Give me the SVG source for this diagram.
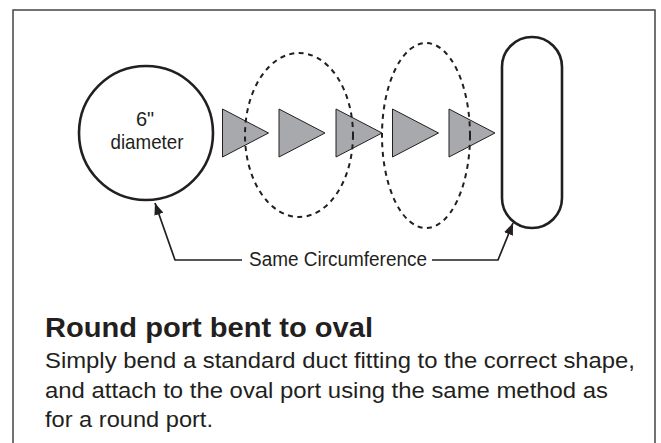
<svg xmlns="http://www.w3.org/2000/svg" width="661" height="443" viewBox="0 0 661 443">
<style>
.txt{font-family:"Liberation Sans",Arial,Helvetica,sans-serif;fill:#231f20}
.solid{fill:#fff;stroke:#231f20;stroke-width:2.6}
.dash{fill:none;stroke:#231f20;stroke-width:2;stroke-dasharray:5 4.5}
.tri{fill:#a7a9ac;stroke:#231f20;stroke-width:1}
.conn{fill:none;stroke:#231f20;stroke-width:1.7}
</style>
<defs>
<marker id="arr" viewBox="0 0 10 8" refX="10" refY="4" markerUnits="userSpaceOnUse" markerWidth="12" markerHeight="9.5" orient="auto">
<path d="M0,0 L10,4 L0,8 Z" fill="#231f20"/>
</marker>
<polygon id="tri" class="tri" points="0,-24 46,0 0,24"/>
</defs>
<rect width="661" height="443" fill="#fff"/>
<path id="frame" d="M13,443 V10 H655 V443" fill="none" stroke="#444" stroke-width="1.5"/>
<g id="node-round">
<circle class="solid" cx="146" cy="133" r="67"/>
<text class="txt" x="145" y="126" font-size="20" text-anchor="middle">6"</text>
<text class="txt" x="147" y="149" font-size="21" text-anchor="middle" textLength="73" lengthAdjust="spacingAndGlyphs">diameter</text>
</g>
<g id="node-oval">
<rect class="solid" x="502" y="37" width="60" height="191" rx="30" ry="30"/>
</g>
<g id="arrows">
<use href="#tri" x="222.5" y="133"/>
<use href="#tri" x="279" y="133"/>
<use href="#tri" x="336" y="133"/>
<use href="#tri" x="392.5" y="133"/>
<use href="#tri" x="449" y="133"/>
</g>
<g id="node-bend1">
<ellipse class="dash" cx="299" cy="135" rx="54" ry="82"/>
</g>
<g id="node-bend2">
<ellipse class="dash" cx="426" cy="135.5" rx="44" ry="92.5"/>
</g>
<g id="connectors">
<path class="conn" d="M242,260 H175 L155,203" marker-end="url(#arr)"/>
<path class="conn" d="M432,260 H498 L513,223" marker-end="url(#arr)"/>
</g>
<g id="label-same">
<text class="txt" x="249" y="266" font-size="20" textLength="178" lengthAdjust="spacingAndGlyphs">Same Circumference</text>
</g>
<g id="caption">
<text class="txt" x="45" y="337" font-size="27" font-weight="bold" textLength="328" lengthAdjust="spacingAndGlyphs">Round port bent to oval</text>
<text class="txt" x="45" y="368" font-size="22" textLength="590" lengthAdjust="spacingAndGlyphs">Simply bend a standard duct fitting to the correct shape,</text>
<text class="txt" x="45" y="398" font-size="22" textLength="563" lengthAdjust="spacingAndGlyphs">and attach to the oval port using the same method as</text>
<text class="txt" x="45" y="427" font-size="22" textLength="168" lengthAdjust="spacingAndGlyphs">for a round port.</text>
</g>
</svg>
